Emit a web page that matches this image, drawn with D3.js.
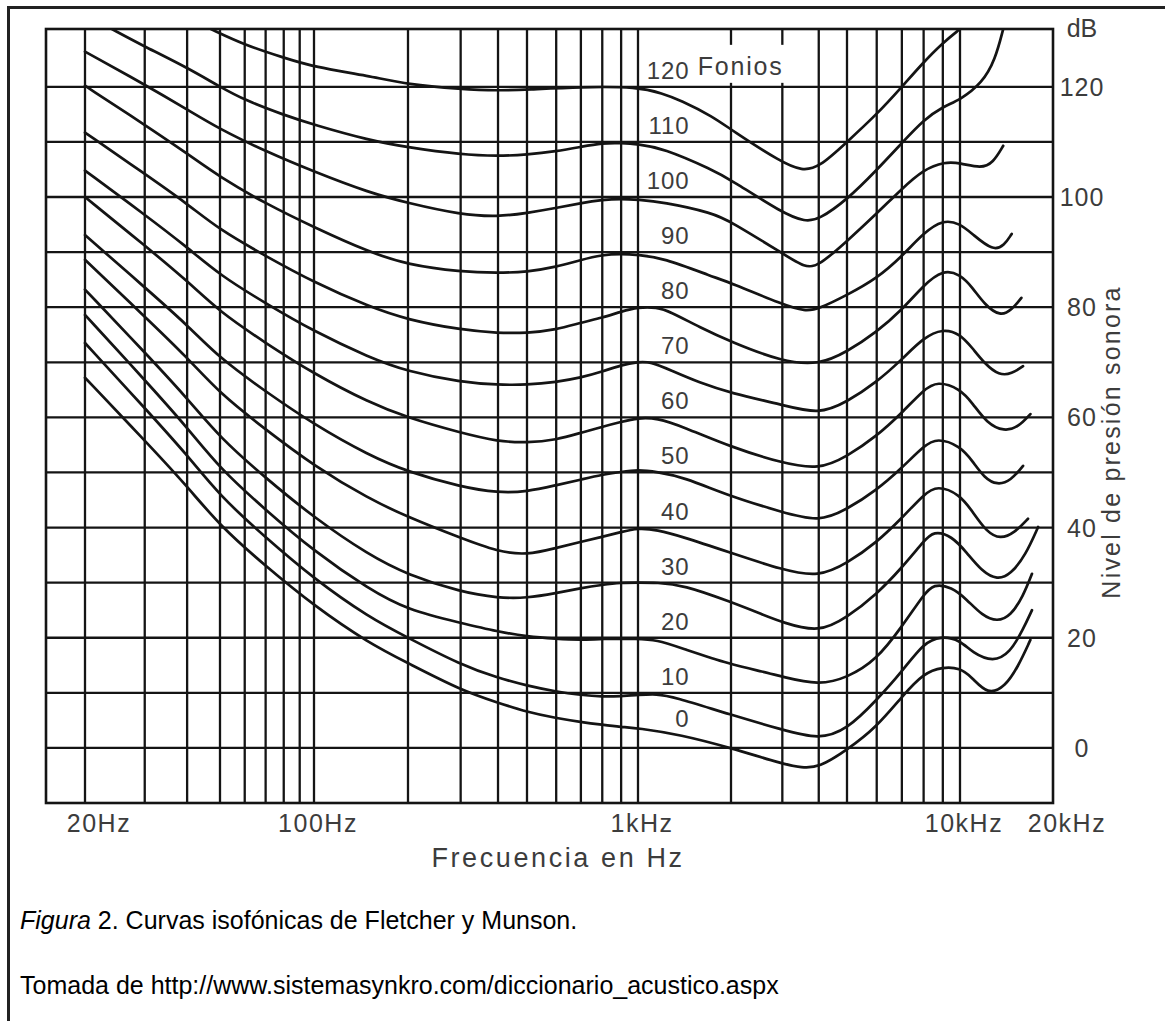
<!DOCTYPE html>
<html>
<head>
<meta charset="utf-8">
<script src="https://cdn.jsdelivr.net/npm/d3@7"></script>
<style>
  body { margin: 0; background: #fff; }
  svg { display: block; }
</style>
</head>
<body>
<div id="chart"></div>
<script>
// Page and plot geometry
const width = 1165;
const height = 1021;
const plot = { left: 46, right: 1053, top: 29, bottom: 803 };

// Grid lines (Hz and dB)
const gridFreqs = [20, 30, 40, 50, 60, 70, 80, 90, 100,
    200, 300, 400, 500, 600, 700, 800, 900, 1000,
    2000, 3000, 4000, 5000, 6000, 7000, 8000, 9000, 10000];
const gridDb = [0, 10, 20, 30, 40, 50, 60, 70, 80, 90, 100, 110, 120];

// Axis labels
const xTickValues = [20, 100, 1000, 10000, 20000];
const xTickLabels = ["20Hz", "100Hz", "1kHz", "10kHz", "20kHz"];
const yTickValues = [0, 20, 40, 60, 80, 100, 120];

// Equal-loudness curves, [frequency Hz, level dB]
const phon120 = [[47,130.5],[60,127.6],[80,125.3],[100,123.6],[150,122],[200,120.4],[300,119.6],[400,119.3],[500,119.5],[700,120],[1000,120],[1200,118.8],[1370,117.6],[1750,114.6],[2000,112.2],[3000,106.2],[3500,104.8],[4000,105.3],[5000,110],[6000,115],[7000,120],[8000,124.5],[9000,128],[10000,130.5]];
const phon110 = [[24,130.5],[30,127.3],[40,123.5],[50,120],[60,117.6],[80,114.9],[100,113.1],[150,110.3],[200,109],[300,107.7],[400,107.4],[500,107.7],[600,108.3],[700,109.1],[800,109.8],[900,109.8],[1000,109.6],[1200,108.9],[1750,104.9],[2000,103.1],[3000,97.1],[3600,95.5],[4000,95.9],[5000,99.5],[6000,104.9],[7000,109.8],[8000,114],[9000,116.4],[10000,117.6],[11800,120.7],[13000,124.9],[13800,130.5]];
const phon100 = [[20,126.4],[30,120.4],[40,115.9],[50,112.3],[70,108.3],[100,104.6],[150,100.8],[200,98.9],[300,96.8],[400,96.4],[500,97.1],[600,98],[700,98.9],[800,99.5],[900,99.7],[1000,99.5],[1200,99.1],[1750,97.1],[2000,95.5],[3000,89.8],[3600,87.1],[4000,87.5],[5000,92],[6000,97],[7000,101.5],[8000,105],[9100,106.4],[10000,106.2],[11700,105.2],[12800,106.2],[13800,109.3]];
const phon90 = [[20,120.2],[30,113.1],[40,107.9],[50,103.6],[70,98.8],[100,94.5],[150,90],[200,87.7],[300,86.4],[400,86.2],[500,86.4],[600,87.3],[700,88.6],[800,89.5],[900,89.7],[1000,89.5],[1200,89],[1750,85.5],[2000,84.4],[3000,80.5],[3600,79.2],[4000,79.7],[5000,82.2],[6000,85.2],[7000,89.2],[8000,93.5],[9000,95.9],[10000,95.2],[11000,93.2],[12800,90.2],[13900,91.2],[14700,93.3]];
const phon80 = [[20,111.7],[30,104.2],[40,98.8],[50,94],[70,89.3],[100,84.5],[150,80.1],[200,77.7],[300,75.9],[400,75.3],[500,75.3],[600,75.9],[700,77.2],[800,78.1],[900,79.2],[1000,80],[1150,80],[1270,79.2],[1580,76.4],[2000,73.7],[3000,70.1],[4000,69.5],[5000,71.9],[6000,75.5],[7000,79.5],[8000,84],[9000,86.8],[10000,86],[11000,83.5],[12000,80.5],[13500,78.3],[14700,79.5],[15800,81.7]];
const phon70 = [[20,104.8],[30,96.8],[40,90.9],[50,85.8],[70,80.7],[100,75.6],[150,70.9],[200,68.3],[300,66.4],[400,65.9],[500,65.9],[600,66.4],[700,67.2],[800,68.3],[900,69.5],[1000,70.1],[1100,70.1],[1270,68.6],[1580,66.3],[2000,64.4],[3000,62.3],[4000,60.5],[5000,62.8],[6000,66.4],[7000,70.5],[8000,74.5],[9000,76.1],[10000,75.2],[11000,72.5],[12000,69.8],[13400,67.6],[14700,67.9],[16000,69.3]];
const phon60 = [[20,100],[30,91.2],[40,84.8],[50,79.1],[70,73.5],[100,67.9],[150,62.7],[200,59.9],[300,57.2],[400,55.6],[500,55.4],[600,55.9],[700,57.2],[800,58.3],[900,59.2],[1000,59.9],[1150,59.9],[1400,58.3],[2000,54.6],[3000,51.7],[4000,50.5],[5000,52.9],[6000,56.6],[7000,60.8],[8000,65],[8700,66.6],[10000,65.2],[11000,62.5],[12200,59],[13900,57.4],[15500,58.3],[16900,60.6]];
const phon50 = [[20,93.1],[30,83.6],[40,76.8],[50,70.7],[70,64.7],[100,58.7],[150,53.1],[200,50.1],[300,47.4],[400,46.3],[500,46.5],[600,47.7],[700,48.7],[800,49.6],[900,50.1],[1000,50.5],[1150,50.1],[1400,49.2],[2000,45.6],[3000,42.8],[4000,41],[5000,43.3],[6000,46.8],[7000,50.8],[8000,54.8],[8700,56.3],[10000,54.8],[11000,52],[12000,49],[13200,47.7],[14600,48.5],[16000,51.2]];
const phon40 = [[20,88.6],[30,78.3],[40,70.9],[50,64.3],[70,57.8],[100,51.2],[150,45.2],[200,41.9],[300,38.1],[400,35.6],[500,35],[600,36.3],[700,37.4],[800,38.3],[900,39.2],[1000,39.9],[1150,39.6],[1400,38.3],[2000,35.4],[3000,32.3],[4000,31],[5000,33.5],[6000,37.3],[7000,41.7],[8000,46],[8700,47.7],[10000,46],[11000,42.8],[12200,39.2],[13500,37.9],[15000,39],[16600,41.6]];
const phon30 = [[20,83.2],[30,71.8],[40,63.5],[50,56.3],[70,49],[100,41.8],[150,35],[200,31.4],[300,28.3],[400,27.2],[500,27.2],[600,28.1],[700,29],[800,29.6],[900,30],[1000,30],[1150,30],[1400,29.6],[2000,26.5],[2600,24.1],[3000,22.8],[4000,20.9],[5000,23.7],[6000,27.9],[7000,32.7],[8000,37.5],[8500,39.4],[9500,38.5],[10500,35.5],[11800,32],[13200,30.5],[14600,31.5],[16300,35],[17900,40.1]];
const phon20 = [[20,78.6],[30,66.8],[40,58.2],[50,50.7],[70,43.2],[100,35.7],[150,28.8],[200,25],[300,22.7],[400,21.1],[500,20.2],[600,19.8],[700,19.6],[800,19.8],[1000,19.8],[1150,19.6],[1370,18.2],[2000,15.1],[2600,13.8],[3000,12.9],[4000,11.4],[5000,12.7],[6000,16],[7000,22],[8000,27.8],[8500,29.8],[9500,29.2],[10500,27],[11800,24],[13200,22.9],[14600,24],[16000,27.5],[17100,31.6]];
const phon10 = [[20,73.5],[30,61.7],[40,53.2],[50,45.7],[70,38.2],[100,30.7],[150,23.7],[200,20],[300,15.1],[400,12.7],[500,11.3],[600,10.2],[700,9.6],[800,9.3],[900,9.4],[1000,9.6],[1150,9.8],[1300,9.3],[2000,6],[3000,3.3],[4000,1.5],[5000,3.3],[6000,8.7],[7000,13.8],[8000,19.1],[8900,20.3],[10000,19.6],[11000,17.2],[12800,15.6],[14500,17.2],[16000,21.5],[17100,25]];
const phon0 = [[20,67.2],[30,55.8],[40,47.5],[50,40.3],[70,33],[100,25.8],[150,19],[200,15.4],[300,10.5],[400,8.2],[500,6.5],[600,5.4],[700,4.7],[800,4.2],[900,3.8],[1000,3.6],[1370,2.4],[2000,0],[3000,-2.9],[3500,-3.6],[4000,-3.6],[5000,-0.4],[6000,3.8],[7000,9.3],[8000,13.6],[9000,14.7],[10000,14.5],[10900,12.9],[12300,9.6],[14000,11.1],[15400,14.7],[16900,19.6]];

const phonLevels = [0, 10, 20, 30, 40, 50, 60, 70, 80, 90, 100, 110, 120];
const curves = [phon0, phon10, phon20, phon30, phon40, phon50, phon60,
    phon70, phon80, phon90, phon100, phon110, phon120];

// Style constants
const STYLES = {
    ink: "#141414",
    text: "#3c3c3c",
    gridWidth: 2.3,
    curveWidth: 2.7,
    font: "'Liberation Sans', Arial, Helvetica, sans-serif"
};

const svg = d3.select("#chart")
    .append("svg")
    .attr("width", width)
    .attr("height", height);

// Page border (left and top edges show in the crop)
svg.append("path")
    .attr("d", `M8.5,${height + 5} V7.5 H${width + 5}`)
    .attr("fill", "none")
    .attr("stroke", "#222")
    .attr("stroke-width", 3);

// Scales: log frequency axis, calibrated on the printed decade/grid marks
const x = d3.scaleLog()
    .domain([15, 20, 50, 100, 200, 500, 1000, 2000, 5000, 10000, 20000])
    .range([plot.left, 85, 220, 314, 408, 527, 638, 731, 847, 960, plot.right]);

const y = d3.scaleLinear()
    .domain([-10, 130.5])
    .range([plot.bottom, plot.top]);

const g = svg.append("g");

// Vertical grid
g.selectAll("line.vgrid")
    .data(gridFreqs)
    .enter()
    .append("line")
    .attr("class", "vgrid")
    .attr("x1", d => x(d))
    .attr("x2", d => x(d))
    .attr("y1", plot.top)
    .attr("y2", plot.bottom)
    .attr("stroke", STYLES.ink)
    .attr("stroke-width", STYLES.gridWidth);

// Horizontal grid
g.selectAll("line.hgrid")
    .data(gridDb)
    .enter()
    .append("line")
    .attr("class", "hgrid")
    .attr("x1", plot.left)
    .attr("x2", plot.right)
    .attr("y1", d => y(d))
    .attr("y2", d => y(d))
    .attr("stroke", STYLES.ink)
    .attr("stroke-width", STYLES.gridWidth);

// Frame
g.append("rect")
    .attr("x", plot.left)
    .attr("y", plot.top)
    .attr("width", plot.right - plot.left)
    .attr("height", plot.bottom - plot.top)
    .attr("fill", "none")
    .attr("stroke", STYLES.ink)
    .attr("stroke-width", 2.6);

// Clip curves to the plot area
svg.append("clipPath")
    .attr("id", "plot-clip")
    .append("rect")
    .attr("x", plot.left)
    .attr("y", plot.top)
    .attr("width", plot.right - plot.left)
    .attr("height", plot.bottom - plot.top);

// B-spline keeps the hand-drawn curves smooth between read-off points
const line = d3.line()
    .x(d => x(d[0]))
    .y(d => y(d[1]))
    .curve(d3.curveBasis);

// White patch behind the "120 Fonios" title breaks the grid there
const labelX = x(1470);
g.append("rect")
    .attr("x", labelX - 46)
    .attr("y", y(120) - 42)
    .attr("width", 148)
    .attr("height", 38)
    .attr("fill", "#fff");

g.append("g")
    .attr("clip-path", "url(#plot-clip)")
    .selectAll("path")
    .data(curves)
    .enter()
    .append("path")
    .attr("d", line)
    .attr("fill", "none")
    .attr("stroke", STYLES.ink)
    .attr("stroke-width", STYLES.curveWidth)
    .attr("stroke-linejoin", "round")
    .attr("stroke-linecap", "round");

// Curve labels (phon values), right-aligned just past 1 kHz
g.selectAll("text.phon")
    .data(phonLevels)
    .enter()
    .append("text")
    .attr("class", "phon")
    .attr("x", labelX)
    .attr("y", d => y(d) - (d === 0 ? 21 : 8))
    .attr("text-anchor", "end")
    .attr("font-family", STYLES.font)
    .attr("font-size", 24)
    .attr("letter-spacing", 1)
    .attr("fill", STYLES.text)
    .attr("stroke", "#fff")
    .attr("stroke-width", 6)
    .attr("paint-order", "stroke")
    .text(d => d);

g.append("text")
    .attr("x", labelX + 8)
    .attr("y", y(120) - 12)
    .attr("font-family", STYLES.font)
    .attr("font-size", 25)
    .attr("letter-spacing", 1.8)
    .attr("fill", STYLES.text)
    .text("Fonios");

// Right axis labels
const axisX = 1082;
svg.selectAll("text.ytick")
    .data(yTickValues)
    .enter()
    .append("text")
    .attr("class", "ytick")
    .attr("x", axisX)
    .attr("y", d => y(d) + 9)
    .attr("text-anchor", "middle")
    .attr("font-family", STYLES.font)
    .attr("font-size", 25)
    .attr("letter-spacing", 1)
    .attr("fill", STYLES.text)
    .text(d => d);

svg.append("text")
    .attr("x", axisX)
    .attr("y", 37)
    .attr("text-anchor", "middle")
    .attr("font-family", STYLES.font)
    .attr("font-size", 25)
    .attr("fill", STYLES.text)
    .text("dB");

svg.append("text")
    .attr("transform", `translate(1120,442) rotate(-90)`)
    .attr("text-anchor", "middle")
    .attr("font-family", STYLES.font)
    .attr("font-size", 25)
    .attr("letter-spacing", 2.2)
    .attr("fill", STYLES.text)
    .text("Nivel de presión sonora");

// Bottom axis labels
svg.selectAll("text.xtick")
    .data(xTickValues)
    .enter()
    .append("text")
    .attr("class", "xtick")
    .attr("x", d => x(d))
    .attr("dx", (d, i) => (i === 0 || i === xTickValues.length - 1) ? 14 : 4)
    .attr("y", 832)
    .attr("text-anchor", "middle")
    .attr("font-family", STYLES.font)
    .attr("font-size", 25)
    .attr("letter-spacing", 1.5)
    .attr("fill", STYLES.text)
    .text((d, i) => xTickLabels[i]);

svg.append("text")
    .attr("x", 558)
    .attr("y", 867)
    .attr("text-anchor", "middle")
    .attr("font-family", STYLES.font)
    .attr("font-size", 27)
    .attr("letter-spacing", 2.6)
    .attr("fill", STYLES.text)
    .text("Frecuencia en Hz");

// Caption
const caption = svg.append("text")
    .attr("x", 20)
    .attr("y", 929)
    .attr("font-family", STYLES.font)
    .attr("font-size", 25)
    .attr("fill", "#000");
caption.append("tspan").attr("font-style", "italic").text("Figura");
caption.append("tspan").text(" 2. Curvas isofónicas de Fletcher y Munson.");

svg.append("text")
    .attr("x", 20)
    .attr("y", 994)
    .attr("font-family", STYLES.font)
    .attr("font-size", 25)
    .attr("fill", "#000")
    .text("Tomada de http://www.sistemasynkro.com/diccionario_acustico.aspx");
</script>
</body>
</html>
